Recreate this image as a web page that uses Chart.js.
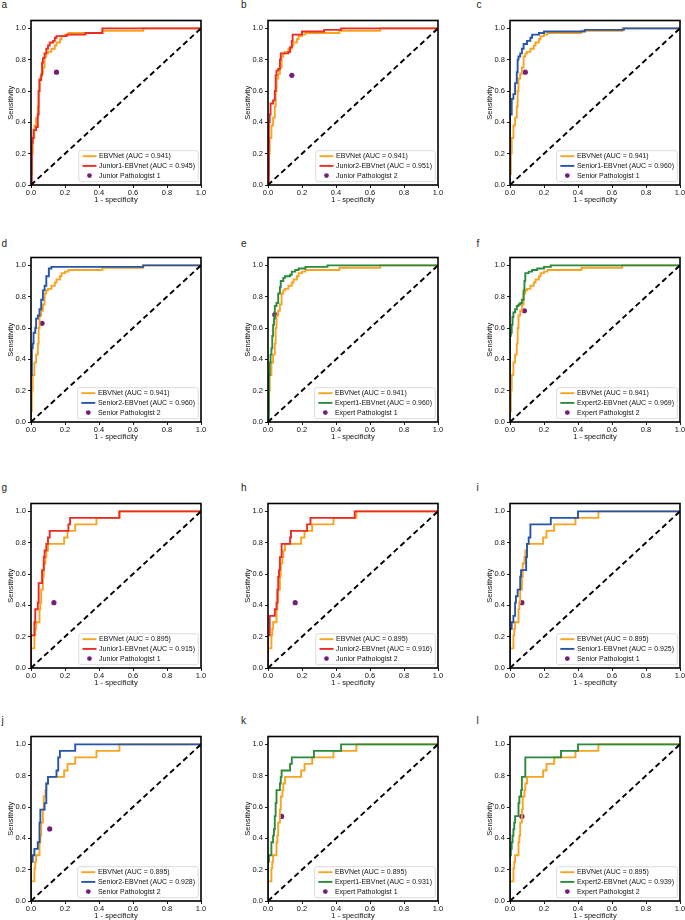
<!DOCTYPE html>
<html>
<head>
<meta charset="utf-8">
<script src="https://cdn.jsdelivr.net/npm/chart.js@4.4.0/dist/chart.umd.min.js"></script>
<style>
  body { margin: 0; background: #fff; width: 685px; height: 920px; overflow: hidden; position: relative;
         font-family: "Liberation Sans", Arial, Helvetica, sans-serif; }
  .panel { position: absolute; }
  .letter { position: absolute; font-size: 10px; line-height: 10px; color: #222; }
</style>
</head>
<body>
<script>
const xTicks = [0, 0.2, 0.4, 0.6, 0.8, 1.0];
const yTicks = [0, 0.2, 0.4, 0.6, 0.8, 1.0];
const chanceX = [0, 1];
const chanceY = [0, 1];

// EBVNet on the first test set (panels a-f)
const ebvnet1Fpr = [0, 0, 0.005, 0.01, 0.02, 0.03, 0.04, 0.045, 0.05, 0.06, 0.07, 0.08, 0.09, 0.1, 0.12, 0.14, 0.15, 0.17, 0.18, 0.2, 0.22, 0.42, 0.66, 1];
const ebvnet1Tpr = [0, 0.07, 0.2, 0.3, 0.38, 0.43, 0.5, 0.6, 0.68, 0.71, 0.75, 0.82, 0.84, 0.85, 0.87, 0.89, 0.91, 0.93, 0.95, 0.96, 0.97, 0.985, 1.0, 1];
// EBVNet on the second test set (panels g-l)
const ebvnet2Fpr = [0, 0, 0.02, 0.025, 0.03, 0.05, 0.055, 0.06, 0.07, 0.075, 0.085, 0.09, 0.1, 0.195, 0.215, 0.26, 0.385, 0.52, 1];
const ebvnet2Tpr = [0, 0.125, 0.208, 0.25, 0.292, 0.375, 0.417, 0.5, 0.583, 0.667, 0.708, 0.75, 0.792, 0.833, 0.875, 0.917, 0.958, 1.0, 1];

// pathologist-assisted curves, one per panel
const curveAFpr = [0, 0.005, 0.01, 0.015, 0.03, 0.04, 0.045, 0.05, 0.06, 0.065, 0.07, 0.08, 0.09, 0.1, 0.11, 0.13, 0.14, 0.15, 0.21, 0.32, 0.42, 1];
const curveATpr = [0, 0.27, 0.3, 0.35, 0.37, 0.45, 0.6, 0.67, 0.7, 0.78, 0.81, 0.84, 0.87, 0.89, 0.91, 0.92, 0.94, 0.95, 0.96, 0.97, 1.0, 1];
const curveBFpr = [0, 0.005, 0.01, 0.015, 0.03, 0.04, 0.045, 0.05, 0.06, 0.07, 0.075, 0.12, 0.13, 0.14, 0.145, 0.2, 0.33, 0.43, 1];
const curveBTpr = [0, 0.4, 0.45, 0.52, 0.54, 0.6, 0.7, 0.73, 0.74, 0.8, 0.84, 0.85, 0.88, 0.92, 0.96, 0.98, 0.99, 1.0, 1];
const curveCFpr = [0, 0, 0.01, 0.02, 0.03, 0.04, 0.045, 0.05, 0.06, 0.07, 0.08, 0.1, 0.12, 0.13, 0.17, 0.2, 0.44, 0.67, 1];
const curveCTpr = [0, 0.45, 0.55, 0.58, 0.65, 0.72, 0.8, 0.82, 0.84, 0.87, 0.9, 0.92, 0.94, 0.96, 0.97, 0.98, 0.99, 1.0, 1];
const curveDFpr = [0, 0, 0.005, 0.01, 0.015, 0.025, 0.03, 0.04, 0.05, 0.06, 0.07, 0.08, 0.09, 0.105, 0.12, 0.66, 1];
const curveDTpr = [0, 0.3, 0.47, 0.5, 0.57, 0.6, 0.66, 0.68, 0.72, 0.78, 0.84, 0.87, 0.93, 0.98, 0.99, 1.0, 1];
const curveEFpr = [0, 0.005, 0.01, 0.015, 0.02, 0.025, 0.03, 0.035, 0.04, 0.05, 0.06, 0.07, 0.075, 0.09, 0.1, 0.13, 0.14, 0.16, 0.18, 0.22, 0.35, 1];
const curveETpr = [0, 0.3, 0.38, 0.43, 0.47, 0.55, 0.62, 0.66, 0.74, 0.76, 0.82, 0.86, 0.9, 0.92, 0.93, 0.94, 0.96, 0.97, 0.98, 0.99, 1.0, 1];
const curveFFpr = [0, 0, 0.005, 0.01, 0.015, 0.02, 0.03, 0.04, 0.05, 0.06, 0.07, 0.08, 0.085, 0.09, 0.11, 0.13, 0.16, 0.2, 0.24, 1];
const curveFTpr = [0, 0.55, 0.57, 0.62, 0.67, 0.7, 0.72, 0.74, 0.75, 0.76, 0.78, 0.84, 0.9, 0.95, 0.96, 0.97, 0.98, 0.99, 1.0, 1];
const curveGFpr = [0, 0, 0.02, 0.025, 0.04, 0.045, 0.065, 0.075, 0.08, 0.09, 0.1, 0.11, 0.22, 0.23, 0.52, 1];
const curveGTpr = [0, 0.208, 0.292, 0.375, 0.417, 0.542, 0.625, 0.708, 0.75, 0.792, 0.833, 0.875, 0.917, 0.958, 1.0, 1];
const curveHFpr = [0, 0, 0.01, 0.04, 0.05, 0.055, 0.06, 0.065, 0.07, 0.08, 0.13, 0.135, 0.23, 0.25, 0.51, 1];
const curveHTpr = [0, 0.208, 0.333, 0.375, 0.417, 0.5, 0.583, 0.625, 0.708, 0.792, 0.833, 0.875, 0.917, 0.958, 1.0, 1];
const curveIFpr = [0, 0, 0.01, 0.02, 0.03, 0.035, 0.045, 0.06, 0.065, 0.095, 0.1, 0.11, 0.12, 0.24, 0.4, 1];
const curveITpr = [0, 0.25, 0.292, 0.333, 0.417, 0.458, 0.5, 0.583, 0.625, 0.708, 0.792, 0.833, 0.917, 0.958, 1.0, 1];
const curveJFpr = [0, 0, 0.01, 0.02, 0.04, 0.05, 0.055, 0.08, 0.09, 0.1, 0.15, 0.16, 0.17, 0.26, 1];
const curveJTpr = [0, 0.25, 0.292, 0.333, 0.375, 0.5, 0.583, 0.625, 0.75, 0.792, 0.833, 0.917, 0.958, 1.0, 1];
const curveKFpr = [0, 0, 0.005, 0.02, 0.03, 0.035, 0.04, 0.045, 0.05, 0.07, 0.075, 0.08, 0.13, 0.14, 0.27, 0.43, 1];
const curveKTpr = [0, 0.25, 0.292, 0.375, 0.417, 0.458, 0.542, 0.625, 0.708, 0.75, 0.792, 0.833, 0.875, 0.917, 0.958, 1.0, 1];
const curveLFpr = [0, 0, 0.005, 0.01, 0.015, 0.02, 0.025, 0.03, 0.05, 0.055, 0.065, 0.07, 0.09, 0.3, 0.4, 1];
const curveLTpr = [0, 0.292, 0.333, 0.375, 0.417, 0.458, 0.5, 0.542, 0.625, 0.667, 0.708, 0.792, 0.917, 0.958, 1.0, 1];

// pathologist operating points, panels a-l
const readerFpr = [0.15, 0.14, 0.09, 0.065, 0.04, 0.085, 0.135, 0.16, 0.07, 0.11, 0.08, 0.07];
const readerTpr = [0.72, 0.70, 0.72, 0.63, 0.685, 0.71, 0.417, 0.417, 0.417, 0.46, 0.54, 0.54];
const readerNames = ['Junior Pathologist 1', 'Junior Pathologist 2', 'Senior Pathologist 1', 'Senior Pathologist 2', 'Expert Pathologist 1', 'Expert Pathologist 2'];
const modelNames = ['Junior1-EBVnet', 'Junior2-EBVnet', 'Senior1-EBVnet', 'Senior2-EBVnet', 'Expert1-EBVnet', 'Expert2-EBVnet'];
const modelAuc = ['0.945', '0.951', '0.960', '0.960', '0.960', '0.969', '0.915', '0.916', '0.925', '0.928', '0.931', '0.939'];
const ebvnetAuc = ['0.941', '0.895'];
const panelLetters = ['a', 'b', 'c', 'd', 'e', 'f', 'g', 'h', 'i', 'j', 'k', 'l'];

const ORANGE = '#F7A421', RED = '#EC2B24', BLUE = '#2756A8', GREEN = '#2A8A3E', PURPLE = '#74207A';
const modelColors = [RED, RED, BLUE, BLUE, GREEN, GREEN];
const FONT = '"Liberation Sans", Arial, Helvetica, sans-serif';

const curves = [
  [curveAFpr, curveATpr], [curveBFpr, curveBTpr], [curveCFpr, curveCTpr],
  [curveDFpr, curveDTpr], [curveEFpr, curveETpr], [curveFFpr, curveFTpr],
  [curveGFpr, curveGTpr], [curveHFpr, curveHTpr], [curveIFpr, curveITpr],
  [curveJFpr, curveJTpr], [curveKFpr, curveKTpr], [curveLFpr, curveLTpr]
];

// layout of the grid
const colLeft = [31, 268, 510];
const rowTop = [20, 257, 503, 736];
const letterLeft = [1.5, 241, 476.5];
const letterTop = [-0.2, 239, 483, 716.3];
const AXW = 31, AXH = 27, PADT = 6, PADR = 9, BOXW = 170, BOXH = 165;
const LW = 1.9;

const pairs = (xs, ys) => xs.map((x, i) => ({x: x, y: ys[i]}));

const frame = {
  id: 'frame',
  afterDatasetsDraw(chart) {
    const {ctx, chartArea: a} = chart;
    ctx.save();
    ctx.strokeStyle = '#000';
    ctx.lineWidth = 1.6;
    ctx.strokeRect(a.left, a.top, a.right - a.left, a.bottom - a.top);
    ctx.restore();
  }
};

const legendBox = {
  id: 'legendBox',
  afterDraw(chart) {
    const {ctx, chartArea: a} = chart;
    const items = chart.data.datasets.filter(d => d.label);
    ctx.save();
    ctx.font = '7px ' + FONT;
    let maxW = 0;
    items.forEach(d => { maxW = Math.max(maxW, ctx.measureText(d.label).width); });
    const w = 20.3 + maxW + 3.3, h = 31;
    const x0 = a.right - 2.7 - w, y0 = a.bottom - 3.3 - h;
    ctx.beginPath();
    ctx.roundRect(x0, y0, w, h, 2);
    ctx.fillStyle = 'rgba(255,255,255,0.85)';
    ctx.fill();
    ctx.strokeStyle = '#d2d2d2';
    ctx.lineWidth = 0.8;
    ctx.stroke();
    items.forEach((d, i) => {
      const y = y0 + 5.5 + i * 9.7;
      if (d.showLine === false) {
        ctx.beginPath();
        ctx.arc(x0 + 10.7, y, 2.4, 0, Math.PI * 2);
        ctx.fillStyle = d.pointBackgroundColor;
        ctx.fill();
      } else {
        ctx.beginPath();
        ctx.moveTo(x0 + 3.7, y);
        ctx.lineTo(x0 + 17.7, y);
        ctx.strokeStyle = d.borderColor;
        ctx.lineWidth = LW;
        ctx.stroke();
      }
      ctx.fillStyle = '#111';
      ctx.textBaseline = 'middle';
      ctx.fillText(d.label, x0 + 20.3, y + 0.3);
    });
    ctx.restore();
  }
};

function axis(title, ticks, max, isX) {
  return {
    type: 'linear', min: 0, max: max,
    afterBuildTicks: s => { s.ticks = ticks.map(v => ({value: v})); },
    afterFit: s => { if (isX) s.height = AXH; else s.width = AXW; },
    ticks: { callback: v => v.toFixed(1), font: {size: 7.5, family: FONT}, color: '#111',
             padding: isX ? 0 : 2, maxRotation: 0, autoSkip: false },
    grid: { display: true, drawOnChartArea: false, drawTicks: true, tickLength: 3, color: '#000', lineWidth: 0.9 },
    border: { display: false },
    title: { display: true, text: title, color: '#111', font: {size: 7.5, family: FONT},
             padding: isX ? {top: 0, bottom: 7.5} : {top: 6.3, bottom: 0} }
  };
}

panelLetters.forEach((letter, i) => {
  const col = i % 3, row = Math.floor(i / 3), set = row < 2 ? 0 : 1;
  const wrap = document.createElement('div');
  wrap.className = 'panel';
  wrap.style.left = (colLeft[col] - AXW) + 'px';
  wrap.style.top = (rowTop[row] - PADT) + 'px';
  const cv = document.createElement('canvas');
  cv.width = AXW + BOXW + PADR;
  cv.height = PADT + BOXH + AXH;
  wrap.appendChild(cv);
  document.body.appendChild(wrap);

  const lab = document.createElement('div');
  lab.className = 'letter';
  lab.textContent = letter;
  lab.style.left = letterLeft[col] + 'px';
  lab.style.top = letterTop[row] + 'px';
  document.body.appendChild(lab);

  const ebv = set === 0 ? [ebvnet1Fpr, ebvnet1Tpr] : [ebvnet2Fpr, ebvnet2Tpr];
  const k = i % 6;
  new Chart(cv, {
    type: 'line',
    data: {
      datasets: [
        { label: 'EBVNet (AUC = ' + ebvnetAuc[set] + ')', data: pairs(ebv[0], ebv[1]),
          borderColor: ORANGE, borderWidth: LW, stepped: true, pointRadius: 0, fill: false, order: 3 },
        { label: modelNames[k] + ' (AUC = ' + modelAuc[i] + ')', data: pairs(curves[i][0], curves[i][1]),
          borderColor: modelColors[k], borderWidth: LW, stepped: true, pointRadius: 0, fill: false, order: 2 },
        { label: readerNames[k], data: [{x: readerFpr[i], y: readerTpr[i]}], showLine: false,
          pointRadius: 2.6, pointBorderWidth: 0, pointBackgroundColor: PURPLE, borderColor: PURPLE,
          backgroundColor: PURPLE, order: 4 },
        { data: pairs(chanceX, chanceY), borderColor: '#000', borderDash: [5.5, 3.5], borderWidth: 1.9,
          pointRadius: 0, fill: false, order: 1 }
      ]
    },
    options: {
      responsive: false, animation: false, events: [],
      layout: { padding: { top: PADT, right: PADR, left: 0, bottom: 0 } },
      plugins: { legend: { display: false }, tooltip: { enabled: false } },
      scales: {
        x: axis('1 - specificity', xTicks, 1, true),
        y: axis('Sensitivity', yTicks, 1.05, false)
      }
    },
    plugins: [frame, legendBox]
  });
});
</script>
</body>
</html>
